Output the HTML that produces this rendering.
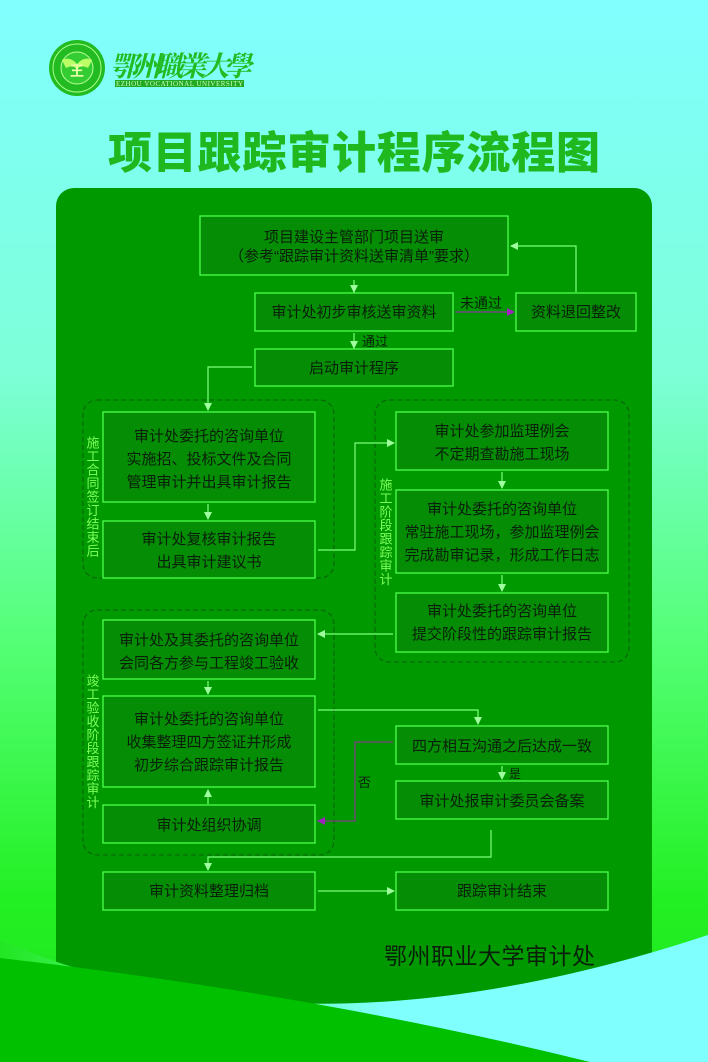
<!DOCTYPE html>
<html><head><meta charset="utf-8"><style>
html,body{margin:0;padding:0;}
body{width:708px;height:1062px;overflow:hidden;}
svg{display:block;font-family:"Liberation Sans","Noto Sans CJK SC",sans-serif;}
.b{fill:#058d05;stroke:#4cff4c;stroke-width:1.3;}
.t{fill:#0a1f0a;font-size:15px;text-anchor:middle;}
.c{stroke:#7dff7d;stroke-width:1.2;fill:none;}
.g{fill:none;stroke:#0b5e0b;stroke-width:1;stroke-dasharray:5,3;}
.v{fill:#7dff5a;font-size:13px;writing-mode:vertical-rl;letter-spacing:0.5px;}
</style></head><body>
<svg width="708" height="1062" viewBox="0 0 708 1062">
<defs>
<linearGradient id="bg" x1="0" y1="0" x2="0" y2="1">
<stop offset="0" stop-color="#80ffff"/><stop offset="0.35" stop-color="#7dffd8"/><stop offset="0.6" stop-color="#55ff77"/><stop offset="0.85" stop-color="#22f022"/><stop offset="1" stop-color="#22e022"/></linearGradient>
<linearGradient id="cy" x1="0" y1="0" x2="1" y2="0">
<stop offset="0" stop-color="#22e622"/><stop offset="0.25" stop-color="#55ff88"/><stop offset="0.55" stop-color="#80ffff"/><stop offset="1" stop-color="#80ffff"/></linearGradient>
<marker id="a" markerWidth="8" markerHeight="8" refX="7" refY="4" orient="auto" markerUnits="userSpaceOnUse"><path d="M0,0 L8,4 L0,8 Z" fill="#9dff9d"/></marker>
<marker id="p" markerWidth="8" markerHeight="8" refX="7" refY="4" orient="auto" markerUnits="userSpaceOnUse"><path d="M0,0 L8,4 L0,8 Z" fill="#a020c0"/></marker>
</defs>
<rect width="708" height="1062" fill="url(#bg)"/>
<!-- logo -->
<circle cx="77" cy="68" r="28" fill="#22bb22"/>
<circle cx="77" cy="68" r="24" fill="none" stroke="#aaff88" stroke-width="1"/>
<circle cx="77" cy="68" r="16" fill="#33cc33" stroke="#bbff99" stroke-width="1"/>
<path d="M62,60 Q70,56 77,64 Q84,56 92,60 L88,68 Q80,64 77,70 Q74,64 66,68 Z" fill="#bbff66"/>
<text x="77" y="76" font-size="14" text-anchor="middle" fill="#eeffaa" font-weight="bold">王</text>
<text x="110" y="76" font-size="28" fill="#22bb22" font-style="italic" font-weight="bold" textLength="142" style="font-family:'Noto Serif CJK SC',serif">鄂州職業大學</text>
<rect x="115" y="80" width="129" height="7" fill="#22aa22"/>
<text x="179.5" y="86" font-size="7" fill="#ccffcc" text-anchor="middle" textLength="127" font-family="Liberation Serif">EZHOU VOCATIONAL UNIVERSITY</text>
<!-- title -->
<text x="354" y="168" font-size="44" fill="#1fb81f" font-weight="900" text-anchor="middle" textLength="492" style="font-family:'Noto Sans CJK SC',sans-serif">项目跟踪审计程序流程图</text>
<!-- panel -->
<rect x="56" y="188" width="596" height="900" rx="18" fill="#009a00"/>
<path d="M0,940 Q300,1070 708,935 L708,1062 L0,1062 Z" fill="url(#cy)"/>
<path d="M0,958 Q320,995 590,1062 L0,1062 Z" fill="#00c000"/>
<!-- groups -->
<rect class="g" x="83" y="400" width="251" height="178" rx="14"/>
<rect class="g" x="375" y="400" width="254" height="262" rx="14"/>
<rect class="g" x="83" y="610" width="251" height="245" rx="14"/>
<text class="v" x="92" y="436">施工合同签订结束后</text>
<text class="v" x="385" y="478">施工阶段跟踪审计</text>
<text class="v" x="92" y="674">竣工验收阶段跟踪审计</text>
<!-- boxes -->
<rect class="b" x="200" y="216" width="308" height="59"/>
<text class="t" x="354" y="242">项目建设主管部门项目送审</text>
<text class="t" x="354" y="261" font-size="12.5">（参考“跟踪审计资料送审清单”要求）</text>
<rect class="b" x="255" y="293" width="198" height="38"/>
<text class="t" x="354" y="317">审计处初步审核送审资料</text>
<rect class="b" x="516" y="293" width="120" height="38"/>
<text class="t" x="576" y="317">资料退回整改</text>
<rect class="b" x="255" y="349" width="198" height="37"/>
<text class="t" x="354" y="373">启动审计程序</text>
<rect class="b" x="103" y="412" width="212" height="90"/>
<text class="t" x="209" y="441">审计处委托的咨询单位</text>
<text class="t" x="209" y="464">实施招、投标文件及合同</text>
<text class="t" x="209" y="487">管理审计并出具审计报告</text>
<rect class="b" x="103" y="521" width="212" height="57"/>
<text class="t" x="209" y="544">审计处复核审计报告</text>
<text class="t" x="209" y="567">出具审计建议书</text>
<rect class="b" x="396" y="412" width="212" height="58"/>
<text class="t" x="502" y="436">审计处参加监理例会</text>
<text class="t" x="502" y="459">不定期查勘施工现场</text>
<rect class="b" x="396" y="490" width="212" height="83"/>
<text class="t" x="502" y="514">审计处委托的咨询单位</text>
<text class="t" x="502" y="537">常驻施工现场，参加监理例会</text>
<text class="t" x="502" y="560">完成勘审记录，形成工作日志</text>
<rect class="b" x="396" y="593" width="212" height="59"/>
<text class="t" x="502" y="616">审计处委托的咨询单位</text>
<text class="t" x="502" y="639">提交阶段性的跟踪审计报告</text>
<rect class="b" x="103" y="620" width="212" height="59"/>
<text class="t" x="209" y="645">审计处及其委托的咨询单位</text>
<text class="t" x="209" y="668">会同各方参与工程竣工验收</text>
<rect class="b" x="103" y="696" width="212" height="91"/>
<text class="t" x="209" y="724">审计处委托的咨询单位</text>
<text class="t" x="209" y="747">收集整理四方签证并形成</text>
<text class="t" x="209" y="770">初步综合跟踪审计报告</text>
<rect class="b" x="103" y="805" width="212" height="38"/>
<text class="t" x="209" y="830">审计处组织协调</text>
<rect class="b" x="396" y="726" width="212" height="38"/>
<text class="t" x="502" y="751">四方相互沟通之后达成一致</text>
<rect class="b" x="396" y="781" width="212" height="38"/>
<text class="t" x="502" y="806">审计处报审计委员会备案</text>
<rect class="b" x="103" y="872" width="212" height="38"/>
<text class="t" x="209" y="896">审计资料整理归档</text>
<rect class="b" x="396" y="872" width="212" height="38"/>
<text class="t" x="502" y="896">跟踪审计结束</text>
<!-- connectors -->
<path class="c" d="M354,280 V292" marker-end="url(#a)"/>
<path d="M455,312 H514" stroke="#8a3aa0" stroke-width="1.3" fill="none" marker-end="url(#p)"/>
<text x="460" y="308" font-size="14" fill="#0a1f0a">未通过</text>
<path class="c" d="M576,292 V246 H511" marker-end="url(#a)"/>
<path class="c" d="M354,333 V348" marker-end="url(#a)"/>
<text x="362" y="346" font-size="13" fill="#0a1f0a">通过</text>
<path class="c" d="M252,367 H208 V410" marker-end="url(#a)"/>
<path class="c" d="M208,504 V519" marker-end="url(#a)"/>
<path class="c" d="M318,550 H355 V443 H394" marker-end="url(#a)"/>
<path class="c" d="M502,472 V488" marker-end="url(#a)"/>
<path class="c" d="M502,575 V591" marker-end="url(#a)"/>
<path class="c" d="M393,634 H318" marker-end="url(#a)"/>
<path class="c" d="M208,681 V694" marker-end="url(#a)"/>
<path class="c" d="M318,710 H478 V724" marker-end="url(#a)"/>
<path d="M393,742 H355 V821 H318" stroke="#6a4a70" stroke-width="1.5" fill="none" marker-end="url(#p)"/>
<text x="358" y="787" font-size="13" fill="#0a1f0a">否</text>
<path class="c" d="M502,766 V779" marker-end="url(#a)"/>
<text x="509" y="778" font-size="12" fill="#0a1f0a">是</text>
<path class="c" d="M208,804 V790" marker-end="url(#a)"/>
<path class="c" d="M491,830 V857 H208 V870" marker-end="url(#a)"/>
<path class="c" d="M318,891 H394" marker-end="url(#a)"/>
<text x="384" y="964" font-size="23" fill="#0a1f0a" textLength="211">鄂州职业大学审计处</text>
</svg>
</body></html>
